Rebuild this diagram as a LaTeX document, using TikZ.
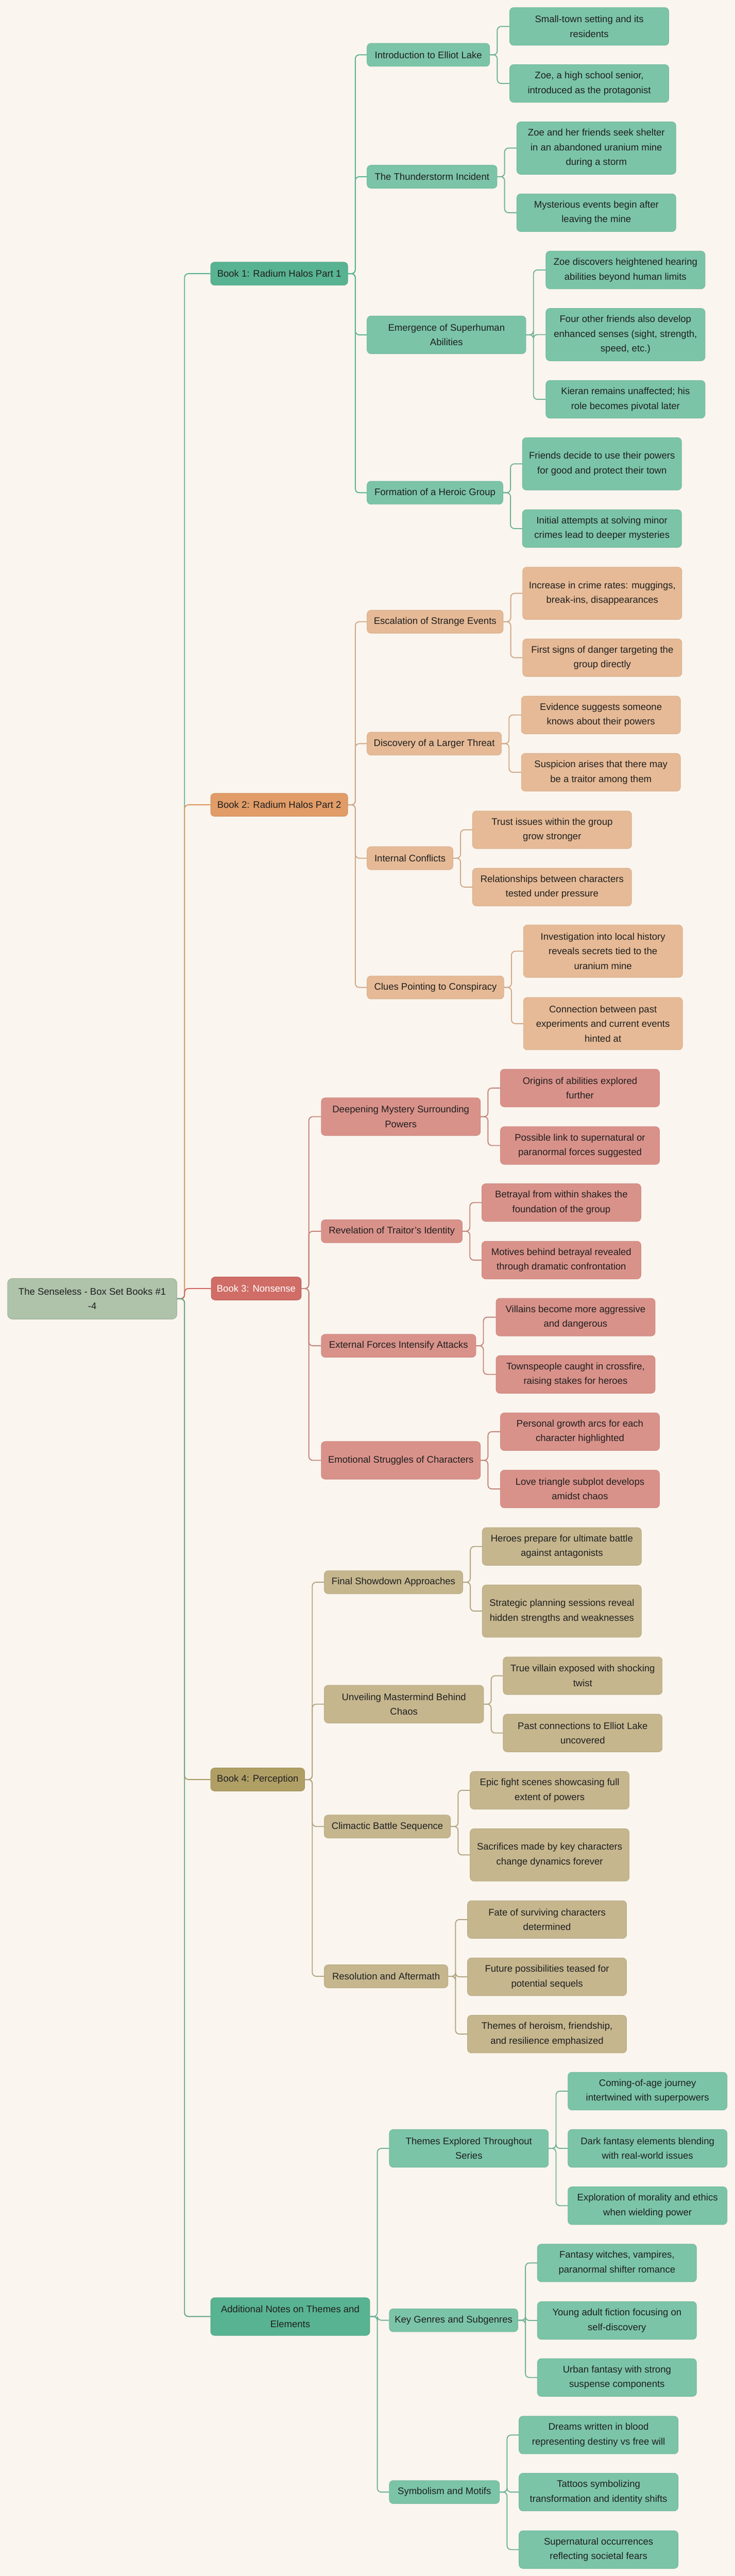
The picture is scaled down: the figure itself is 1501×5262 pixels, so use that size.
\documentclass[tikz,border=0pt]{standalone}
\usepackage{fontspec}
\setmainfont{Liberation Sans}
\usetikzlibrary{positioning}

\definecolor{paper}{HTML}{FAF5EE}
\definecolor{rootc}{HTML}{AEC3AA}
\definecolor{grnA}{HTML}{58B392}
\definecolor{grnB}{HTML}{7BC4A8}
\definecolor{grnL}{HTML}{5DA283}
\definecolor{orgA}{HTML}{E19C67}
\definecolor{orgB}{HTML}{E6BA96}
\definecolor{orgL}{HTML}{E0955C}
\definecolor{redA}{HTML}{CF6D66}
\definecolor{redB}{HTML}{D9928A}
\definecolor{redL}{HTML}{D0655E}
\definecolor{tanA}{HTML}{B09F65}
\definecolor{tanB}{HTML}{C5B68E}
\definecolor{tanL}{HTML}{A89A60}

\tikzset{
  box/.style={rectangle, rounded corners=8pt, line width=1pt, inner sep=0pt,
    align=center, anchor=west, text=black!88,
    font=\fontsize{19.5}{30}\selectfont},
  rootbox/.style={box, fill=rootc, draw=rootc!90!black, minimum width=346pt, minimum height=83pt, rounded corners=10pt},
  bookbox/.style={box, fill=#1, draw=#1!92!black, minimum height=47pt},
  subbox/.style={box, fill=#1, draw=#1!94!black, minimum height=47pt},
  leaf/.style={box, fill=#1, draw=#1!94!black, minimum width=325pt, minimum height=77pt},
  lnk/.style={draw=#1, line width=2pt, rounded corners=8pt}
}

\begin{document}
\begin{tikzpicture}[x=1pt,y=-1pt]

  \fill[paper] (0,0) rectangle (1501,5262);
  \useasboundingbox (0,0) rectangle (1501,5262);

  % root and books
  \node[rootbox] (root) at (15,2653) {The Senseless - Box Set Books \#1\\-4};
  \node[bookbox=grnA, minimum width=280pt] (b1) at (430,559) {Book 1: Radium Halos Part 1};
  \node[bookbox=orgA, minimum width=280pt] (b2) at (430,1644) {Book 2: Radium Halos Part 2};
  \node[bookbox=redA, minimum width=184pt, text=white] (b3) at (431,2632) {Book 3: Nonsense};
  \node[bookbox=tanA, minimum width=192pt] (b4) at (430,3635) {Book 4: Perception};
  \node[bookbox=grnA, minimum width=325pt, minimum height=77pt] (b5) at (430,4732) {Additional Notes on Themes and\\Elements};

  % book 1
  \begin{scope}[every node/.style={subbox=grnB}]
    \node[minimum width=250.5pt] (s11) at (749.5,112) {Introduction to Elliot Lake};
    \node[minimum width=265.5pt] (s12) at (749.5,361) {The Thunderstorm Incident};
    \node[minimum width=324.5pt, minimum height=77pt] (s13) at (749.5,684) {Emergence of Superhuman\\Abilities};
    \node[minimum width=277.5pt] (s14) at (749.5,1006.5) {Formation of a Heroic Group};
  \end{scope}
  \begin{scope}[every node/.style={leaf=grnB}]
    \node (l111) at (1041,54) {Small-town setting and its\\residents};
    \node (l112) at (1041,170.5) {Zoe, a high school senior,\\introduced as the protagonist};
    \node[minimum height=107pt] (l121) at (1055.5,302.5) {Zoe and her friends seek shelter\\in an abandoned uranium mine\\during a storm};
    \node (l122) at (1055.5,434.5) {Mysterious events begin after\\leaving the mine};
    \node (l131) at (1115,551.5) {Zoe discovers heightened hearing\\abilities beyond human limits};
    \node[minimum height=107pt] (l132) at (1115,683.5) {Four other friends also develop\\enhanced senses (sight, strength,\\speed, etc.)};
    \node (l133) at (1115,815.7) {Kieran remains unaffected; his\\role becomes pivotal later};
    \node[minimum height=107pt] (l141) at (1067,947.5) {Friends decide to use their powers\\for good and protect their town};
    \node (l142) at (1067,1079.7) {Initial attempts at solving minor\\crimes lead to deeper mysteries};
  \end{scope}

  % book 2
  \begin{scope}[every node/.style={subbox=orgB}]
    \node[minimum width=278pt] (s21) at (749.5,1270) {Escalation of Strange Events};
    \node[minimum width=274.5pt] (s22) at (749.5,1519) {Discovery of a Larger Threat};
    \node[minimum width=175.5pt] (s23) at (749.5,1753) {Internal Conflicts};
    \node[minimum width=279.5pt] (s24) at (749.5,2017) {Clues Pointing to Conspiracy};
  \end{scope}
  \begin{scope}[every node/.style={leaf=orgB}]
    \node[minimum height=107pt] (l211) at (1067.6,1212) {Increase in crime rates: muggings,\\break-ins, disappearances};
    \node (l212) at (1067.6,1343.5) {First signs of danger targeting the\\group directly};
    \node (l221) at (1064.8,1460.5) {Evidence suggests someone\\knows about their powers};
    \node (l222) at (1064.8,1577.5) {Suspicion arises that there may\\be a traitor among them};
    \node (l231) at (965,1695) {Trust issues within the group\\grow stronger};
    \node (l232) at (965,1812) {Relationships between characters\\tested under pressure};
    \node[minimum height=107pt] (l241) at (1069,1943) {Investigation into local history\\reveals secrets tied to the\\uranium mine};
    \node[minimum height=107pt] (l242) at (1069,2091) {Connection between past\\experiments and current events\\hinted at};
  \end{scope}

  % book 3
  \begin{scope}[every node/.style={subbox=redB}]
    \node[minimum width=325pt, minimum height=77pt] (s31) at (656,2281) {Deepening Mystery Surrounding\\Powers};
    \node[minimum width=288pt] (s32) at (656,2515) {Revelation of Traitor’s Identity};
    \node[minimum width=315.7pt] (s33) at (656,2749) {External Forces Intensify Attacks};
    \node[minimum width=325pt, minimum height=77pt] (s34) at (656,2983) {Emotional Struggles of Characters};
  \end{scope}
  \begin{scope}[every node/.style={leaf=redB}]
    \node (l311) at (1022,2222.5) {Origins of abilities explored\\further};
    \node (l312) at (1022,2340) {Possible link to supernatural or\\paranormal forces suggested};
    \node (l321) at (984,2456.5) {Betrayal from within shakes the\\foundation of the group};
    \node (l322) at (984,2574) {Motives behind betrayal revealed\\through dramatic confrontation};
    \node (l331) at (1013,2690.5) {Villains become more aggressive\\and dangerous};
    \node (l332) at (1013,2807.5) {Townspeople caught in crossfire,\\raising stakes for heroes};
    \node (l341) at (1022,2924.5) {Personal growth arcs for each\\character highlighted};
    \node (l342) at (1022,3041.5) {Love triangle subplot develops\\amidst chaos};
  \end{scope}

  % book 4
  \begin{scope}[every node/.style={subbox=tanB}]
    \node[minimum width=283pt] (s41) at (662,3232) {Final Showdown Approaches};
    \node[minimum width=325.6pt, minimum height=77pt] (s42) at (662,3481) {Unveiling Mastermind Behind\\Chaos};
    \node[minimum width=258pt] (s43) at (662,3731) {Climactic Battle Sequence};
    \node[minimum width=252.7pt] (s44) at (662,4037) {Resolution and Aftermath};
  \end{scope}
  \begin{scope}[every node/.style={leaf=tanB}]
    \node (l411) at (985,3159) {Heroes prepare for ultimate battle\\against antagonists};
    \node[minimum height=107pt] (l412) at (985,3291) {Strategic planning sessions reveal\\hidden strengths and weaknesses};
    \node (l421) at (1027.6,3423) {True villain exposed with shocking\\twist};
    \node (l422) at (1027.6,3540) {Past connections to Elliot Lake\\uncovered};
    \node (l431) at (960,3657) {Epic fight scenes showcasing full\\extent of powers};
    \node[minimum height=107pt] (l432) at (960,3789) {Sacrifices made by key characters\\change dynamics forever};
    \node (l441) at (954.7,3921) {Fate of surviving characters\\determined};
    \node (l442) at (954.7,4038) {Future possibilities teased for\\potential sequels};
    \node (l443) at (954.7,4155) {Themes of heroism, friendship,\\and resilience emphasized};
  \end{scope}

  % additional notes
  \begin{scope}[every node/.style={subbox=grnB}]
    \node[minimum width=325pt, minimum height=77pt] (s51) at (795,4388.5) {Themes Explored Throughout\\Series};
    \node[minimum width=262.6pt] (s52) at (795,4739.5) {Key Genres and Subgenres};
    \node[minimum width=225pt] (s53) at (795,5090.5) {Symbolism and Motifs};
  \end{scope}
  \begin{scope}[every node/.style={leaf=grnB}]
    \node (l511) at (1160,4271.5) {Coming-of-age journey\\intertwined with superpowers};
    \node (l512) at (1160,4388.5) {Dark fantasy elements blending\\with real-world issues};
    \node (l513) at (1160,4505.5) {Exploration of morality and ethics\\when wielding power};
    \node (l521) at (1097.6,4622.5) {Fantasy witches, vampires,\\paranormal shifter romance};
    \node (l522) at (1097.6,4740) {Young adult fiction focusing on\\self-discovery};
    \node (l523) at (1097.6,4856.5) {Urban fantasy with strong\\suspense components};
    \node (l531) at (1060,4974) {Dreams written in blood\\representing destiny vs free will};
    \node (l532) at (1060,5090.5) {Tattoos symbolizing\\transformation and identity shifts};
    \node (l533) at (1060,5208) {Supernatural occurrences\\reflecting societal fears};
  \end{scope}

  % connectors from the root
  \draw[lnk=grnA] (root.east) -- ++(15,0) |- (b1.west);
  \draw[lnk=orgL] (root.east) -- ++(15,0) |- (b2.west);
  \draw[lnk=redL] (root.east) -- ++(15,0) |- (b3.west);
  \draw[lnk=tanL] (root.east) -- ++(15,0) |- (b4.west);
  \draw[lnk=grnL] (root.east) -- ++(15,0) |- (b5.west);

  % connectors book 1
  \draw[lnk=grnA] (b1.east) -- ++(15,0) |- (s11.west);
  \draw[lnk=grnA] (b1.east) -- ++(15,0) |- (s12.west);
  \draw[lnk=grnA] (b1.east) -- ++(15,0) |- (s13.west);
  \draw[lnk=grnA] (b1.east) -- ++(15,0) |- (s14.west);
  \draw[lnk=grnB!90!black] (s11.east) -- ++(15,0) |- (l111.west);
  \draw[lnk=grnB!90!black] (s11.east) -- ++(15,0) |- (l112.west);
  \draw[lnk=grnB!90!black] (s12.east) -- ++(15,0) |- (l121.west);
  \draw[lnk=grnB!90!black] (s12.east) -- ++(15,0) |- (l122.west);
  \draw[lnk=grnB!90!black] (s13.east) -- ++(15,0) |- (l131.west);
  \draw[lnk=grnB!90!black] (s13.east) -- ++(15,0) |- (l132.west);
  \draw[lnk=grnB!90!black] (s13.east) -- ++(15,0) |- (l133.west);
  \draw[lnk=grnB!90!black] (s14.east) -- ++(15,0) |- (l141.west);
  \draw[lnk=grnB!90!black] (s14.east) -- ++(15,0) |- (l142.west);

  % connectors book 2
  \draw[lnk=orgB!90!black] (b2.east) -- ++(15,0) |- (s21.west);
  \draw[lnk=orgB!90!black] (b2.east) -- ++(15,0) |- (s22.west);
  \draw[lnk=orgB!90!black] (b2.east) -- ++(15,0) |- (s23.west);
  \draw[lnk=orgB!90!black] (b2.east) -- ++(15,0) |- (s24.west);
  \draw[lnk=orgB!90!black] (s21.east) -- ++(15,0) |- (l211.west);
  \draw[lnk=orgB!90!black] (s21.east) -- ++(15,0) |- (l212.west);
  \draw[lnk=orgB!90!black] (s22.east) -- ++(15,0) |- (l221.west);
  \draw[lnk=orgB!90!black] (s22.east) -- ++(15,0) |- (l222.west);
  \draw[lnk=orgB!90!black] (s23.east) -- ++(15,0) |- (l231.west);
  \draw[lnk=orgB!90!black] (s23.east) -- ++(15,0) |- (l232.west);
  \draw[lnk=orgB!90!black] (s24.east) -- ++(15,0) |- (l241.west);
  \draw[lnk=orgB!90!black] (s24.east) -- ++(15,0) |- (l242.west);

  % connectors book 3
  \draw[lnk=redB!90!black] (b3.east) -- ++(15,0) |- (s31.west);
  \draw[lnk=redB!90!black] (b3.east) -- ++(15,0) |- (s32.west);
  \draw[lnk=redB!90!black] (b3.east) -- ++(15,0) |- (s33.west);
  \draw[lnk=redB!90!black] (b3.east) -- ++(15,0) |- (s34.west);
  \draw[lnk=redB!90!black] (s31.east) -- ++(15,0) |- (l311.west);
  \draw[lnk=redB!90!black] (s31.east) -- ++(15,0) |- (l312.west);
  \draw[lnk=redB!90!black] (s32.east) -- ++(15,0) |- (l321.west);
  \draw[lnk=redB!90!black] (s32.east) -- ++(15,0) |- (l322.west);
  \draw[lnk=redB!90!black] (s33.east) -- ++(15,0) |- (l331.west);
  \draw[lnk=redB!90!black] (s33.east) -- ++(15,0) |- (l332.west);
  \draw[lnk=redB!90!black] (s34.east) -- ++(15,0) |- (l341.west);
  \draw[lnk=redB!90!black] (s34.east) -- ++(15,0) |- (l342.west);

  % connectors book 4
  \draw[lnk=tanB!90!black] (b4.east) -- ++(15,0) |- (s41.west);
  \draw[lnk=tanB!90!black] (b4.east) -- ++(15,0) |- (s42.west);
  \draw[lnk=tanB!90!black] (b4.east) -- ++(15,0) |- (s43.west);
  \draw[lnk=tanB!90!black] (b4.east) -- ++(15,0) |- (s44.west);
  \draw[lnk=tanB!90!black] (s41.east) -- ++(15,0) |- (l411.west);
  \draw[lnk=tanB!90!black] (s41.east) -- ++(15,0) |- (l412.west);
  \draw[lnk=tanB!90!black] (s42.east) -- ++(15,0) |- (l421.west);
  \draw[lnk=tanB!90!black] (s42.east) -- ++(15,0) |- (l422.west);
  \draw[lnk=tanB!90!black] (s43.east) -- ++(15,0) |- (l431.west);
  \draw[lnk=tanB!90!black] (s43.east) -- ++(15,0) |- (l432.west);
  \draw[lnk=tanB!90!black] (s44.east) -- ++(15,0) |- (l441.west);
  \draw[lnk=tanB!90!black] (s44.east) -- ++(15,0) |- (l442.west);
  \draw[lnk=tanB!90!black] (s44.east) -- ++(15,0) |- (l443.west);

  % connectors additional notes
  \draw[lnk=grnB!90!black] (b5.east) -- ++(15,0) |- (s51.west);
  \draw[lnk=grnB!90!black] (b5.east) -- ++(15,0) |- (s52.west);
  \draw[lnk=grnB!90!black] (b5.east) -- ++(15,0) |- (s53.west);
  \draw[lnk=grnB!90!black] (s51.east) -- ++(15,0) |- (l511.west);
  \draw[lnk=grnB!90!black] (s51.east) -- ++(15,0) |- (l512.west);
  \draw[lnk=grnB!90!black] (s51.east) -- ++(15,0) |- (l513.west);
  \draw[lnk=grnB!90!black] (s52.east) -- ++(15,0) |- (l521.west);
  \draw[lnk=grnB!90!black] (s52.east) -- ++(15,0) |- (l522.west);
  \draw[lnk=grnB!90!black] (s52.east) -- ++(15,0) |- (l523.west);
  \draw[lnk=grnB!90!black] (s53.east) -- ++(15,0) |- (l531.west);
  \draw[lnk=grnB!90!black] (s53.east) -- ++(15,0) |- (l532.west);
  \draw[lnk=grnB!90!black] (s53.east) -- ++(15,0) |- (l533.west);

\end{tikzpicture}
\end{document}
